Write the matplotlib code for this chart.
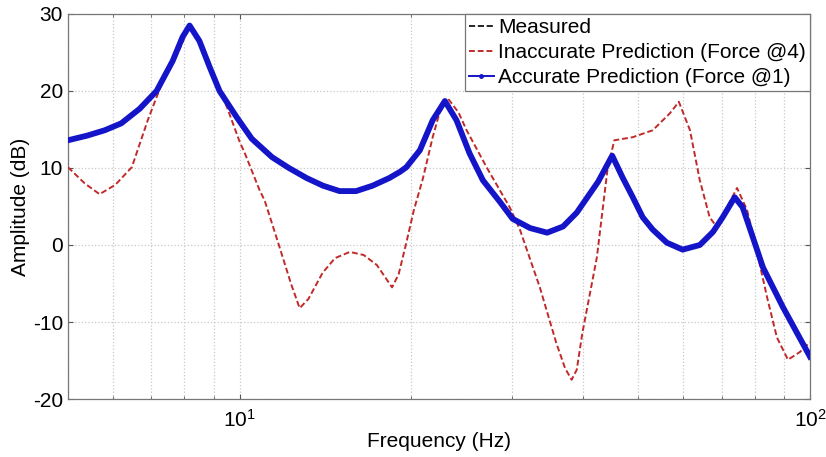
import matplotlib
matplotlib.use("Agg")
import matplotlib.pyplot as plt
from matplotlib.lines import Line2D
from matplotlib.ticker import NullFormatter, FixedLocator

plt.rcParams['font.family'] = ['Liberation Sans', 'DejaVu Sans']
plt.rcParams['mathtext.fontset'] = 'custom'
plt.rcParams['mathtext.rm'] = 'Liberation Sans'
plt.rcParams['mathtext.it'] = 'Liberation Sans'
plt.rcParams['axes.unicode_minus'] = False

# Accurate prediction (Force @1)
acc_f = [5.0, 5.4, 5.8, 6.2, 6.68, 7.15, 7.63, 7.94, 8.17, 8.5, 8.86, 9.22, 9.88,
         10.5, 11.4, 12.2, 13.1, 14.0, 14.97, 16.0, 17.1, 18.3, 19.1, 19.6, 20.7, 21.8,
         22.9, 24.0, 25.3, 26.7, 28.6, 30.1, 32.3, 34.6, 36.9, 39.0, 42.5, 45.0, 46.9,
         48.9, 50.9, 53.0, 56.1, 59.8, 64.1, 67.6, 70.3, 73.8, 76.2, 79.4, 82.7, 89.7,
         96.0, 100.0]
acc_db = [13.6, 14.2, 14.9, 15.8, 17.7, 20.0, 23.9, 27.0, 28.5, 26.5, 23.1, 20.0, 16.6,
          13.8, 11.4, 10.0, 8.7, 7.7, 7.0, 7.0, 7.7, 8.7, 9.5, 10.1, 12.3, 16.2,
          18.7, 16.2, 11.9, 8.4, 5.6, 3.4, 2.2, 1.6, 2.4, 4.2, 8.2, 11.6, 8.8,
          6.2, 3.6, 2.0, 0.3, -0.6, 0.0, 1.7, 3.6, 6.2, 4.9, 1.0, -2.9, -8.1,
          -12.1, -14.5]

# Measured (lies under the accurate prediction)
meas_f = list(acc_f)
meas_db = list(acc_db)

# Inaccurate prediction (Force @4)
inacc_f = [5.0, 5.35, 5.68, 6.05, 6.47, 6.9, 7.33, 7.8, 8.17, 8.5, 8.86, 9.5, 10.0, 10.2,
           10.84, 11.06, 11.75, 12.3, 12.74, 13.2, 13.98, 14.7, 15.6, 16.5, 17.4, 18.0,
           18.5, 19.0, 19.6, 20.2, 20.95, 21.8, 22.4, 23.2, 24.2, 25.0, 27.1, 29.8, 31.0,
           33.6, 35.9, 37.2, 38.2, 39.0, 39.9, 42.3, 44.2, 45.4, 48.9, 53.0, 56.8, 58.9,
           61.6, 64.1, 66.7, 68.7, 71.5, 74.5, 77.6, 80.8, 84.1, 87.5, 91.5, 96.0, 100.0]
inacc_db = [10.1, 8.0, 6.6, 7.8, 10.1, 16.2, 21.3, 25.0, 28.5, 26.5, 23.1, 17.9, 13.4, 12.0,
            7.1, 5.8, -0.3, -5.0, -8.2, -7.0, -3.6, -1.7, -0.9, -1.3, -2.6, -4.2,
            -5.5, -3.8, 0.3, 4.5, 8.6, 14.0, 17.1, 19.0, 17.2, 14.9, 10.1, 4.8, 2.0,
            -5.5, -12.7, -16.0, -17.5, -16.2, -11.4, -1.6, 10.1, 13.6, 14.0, 14.9, 17.1, 18.6,
            14.9, 8.4, 3.6, 2.3, 4.9, 7.4, 4.5, -1.0, -6.8, -12.0, -14.9, -13.9, -12.6]

labels = ["Measured", "Inaccurate Prediction (Force @4)", "Accurate Prediction (Force @1)"]
blue = '#1414c8'
red = '#c02a2a'

fig = plt.figure(figsize=(8.26, 4.57), dpi=100)
ax = fig.add_axes([0.0823, 0.1269, 0.8983, 0.8425])

ax.plot(meas_f, meas_db, color='black', ls='--', lw=1.2, zorder=2)
ax.plot(inacc_f, inacc_db, color=red, ls=(0, (3, 1.5)), lw=1.4, zorder=3)
ax.plot(acc_f, acc_db, color=blue, ls='-', lw=4.2, zorder=4, solid_joinstyle='round')

ax.set_xscale('log')
ax.set_xlim(5, 100)
ax.set_ylim(-20, 30)
ax.set_yticks([-20, -10, 0, 10, 20, 30])
ax.xaxis.set_major_locator(FixedLocator([10, 100]))
ax.set_xticklabels([r'$10^1$', r'$10^2$'])
ax.xaxis.set_minor_locator(FixedLocator([5, 6, 7, 8, 9, 20, 30, 40, 50, 60, 70, 80, 90]))
ax.xaxis.set_minor_formatter(NullFormatter())

ax.grid(True, which='both', color='#c8c8c8', ls=':', lw=0.9)
ax.tick_params(which='both', direction='in', top=True, right=True, colors='#555555',
               labelcolor='black', labelsize=15)
ax.tick_params(axis='x', which='major', pad=7)
for s in ax.spines.values():
    s.set_color('#777777')
    s.set_linewidth(0.9)

ax.set_xlabel('Frequency (Hz)', fontsize=15, labelpad=1)
ax.set_ylabel('Amplitude (dB)', fontsize=15, labelpad=2)

handles = [
    Line2D([], [], color='black', ls='--', lw=1.2),
    Line2D([], [], color=red, ls=(0, (3, 1.5)), lw=1.4),
    Line2D([], [], color=blue, ls='-', lw=1.4, marker='.', markersize=5),
]
leg = ax.legend(handles, labels, loc='upper right', fontsize=15, fancybox=False,
                borderaxespad=0, handlelength=1.2, handletextpad=0.2, borderpad=0.2,
                labelspacing=0.28, framealpha=1)
leg.get_frame().set_edgecolor('#777777')
leg.get_frame().set_linewidth(0.9)

fig.savefig('out.png', dpi=100)
